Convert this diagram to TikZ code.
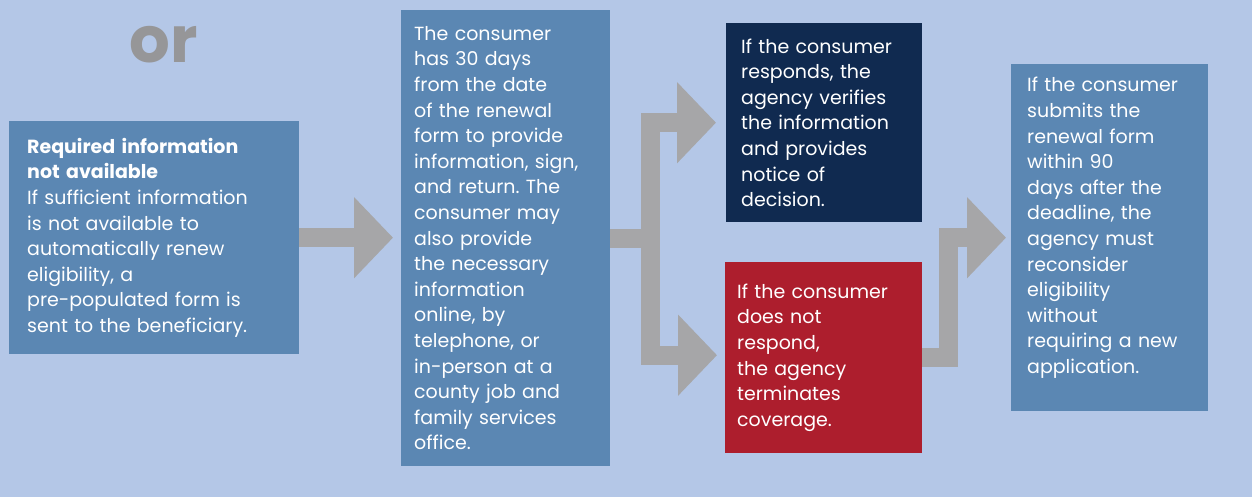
\documentclass[tikz,border=0pt]{standalone}
\usepackage{fontspec}
\setmainfont{Poppins}
\usetikzlibrary{arrows.meta, positioning}
\definecolor{bgblue}{RGB}{180,199,231}
\definecolor{boxblue}{RGB}{91,135,179}
\definecolor{boxnavy}{RGB}{16,42,80}
\definecolor{boxred}{RGB}{173,30,45}
\definecolor{arrowgray}{RGB}{166,166,168}
\definecolor{orgray}{RGB}{150,150,152}
\newcommand{\txt}{\fontsize{19}{25.6}\selectfont}
\frenchspacing

\begin{document}
\begin{tikzpicture}[x=1pt, y=-1pt,
    box/.style={anchor=north west, inner ysep=0pt, text=white, align=left, font=\txt},
    flow/.style={draw=arrowgray, line width=19pt, -{Triangle[length=39pt, width=79pt]}}]
  \useasboundingbox (0,0) rectangle (1252,497);
  \fill[bgblue] (0,0) rectangle (1252,497);

  \node[font=\fontsize{64}{64}\selectfont\bfseries, text=orgray, anchor=base, inner sep=0pt] (or) at (164,63) {or};

  \node[box, fill=boxblue, inner xsep=18pt, text width=254pt, minimum width=290pt, minimum height=233pt] (b1) at (9,121)
    {\textbf{Required information}\\ \textbf{not available}\\ If sufficient information\\ is not available to\\ automatically renew\\ eligibility, a\\ pre-populated form is\\ sent to the beneficiary.};
  \node[box, fill=boxblue, inner xsep=13pt, text width=183pt, minimum width=209pt, minimum height=456pt] (b2) at (401,10)
    {The consumer\\ has 30 days\\ from the date\\ of the renewal\\ form to provide\\ information, sign,\\ and return. The\\ consumer may\\ also provide\\ the necessary\\ information\\ online, by\\ telephone, or\\ in-person at a\\ county job and\\ family services\\ office.};
  \node[box, fill=boxnavy, inner xsep=15pt, text width=166pt, minimum width=196pt, minimum height=199pt] (b3) at (726,23)
    {If the consumer\\ responds, the\\ agency verifies\\ the information\\ and provides\\ notice of\\ decision.};
  \node[box, fill=boxred, inner xsep=12pt, text width=173pt, minimum width=197pt, minimum height=191pt] (b4) at (725,262)
    {If the consumer\\ does not\\ respond,\\ the agency\\ terminates\\ coverage.};
  \node[box, fill=boxblue, inner xsep=16pt, text width=165pt, minimum width=197pt, minimum height=347pt, text depth=306pt] (b5) at (1011,64)
    {If the consumer\\ submits the\\ renewal form\\ within 90\\ days after the\\ deadline, the\\ agency must\\ reconsider\\ eligibility\\ without\\ requiring a new\\ application.};

  % block arrows
  \draw[flow, shorten >=8pt] (b1.east) -- (b1.east -| b2.west);
  \coordinate (fork) at ([xshift=40.5pt]b2.east);
  \draw[flow, shorten >=10pt] (b2.east) -- (fork) |- (b3.west);
  \draw[flow, shorten >=8pt] (fork) |- ([yshift=2.5pt]b4.west);
  \draw[flow, shorten >=5pt] (b4.east) -- ++(26.5,0) |- (b5.west);
\end{tikzpicture}
\end{document}
